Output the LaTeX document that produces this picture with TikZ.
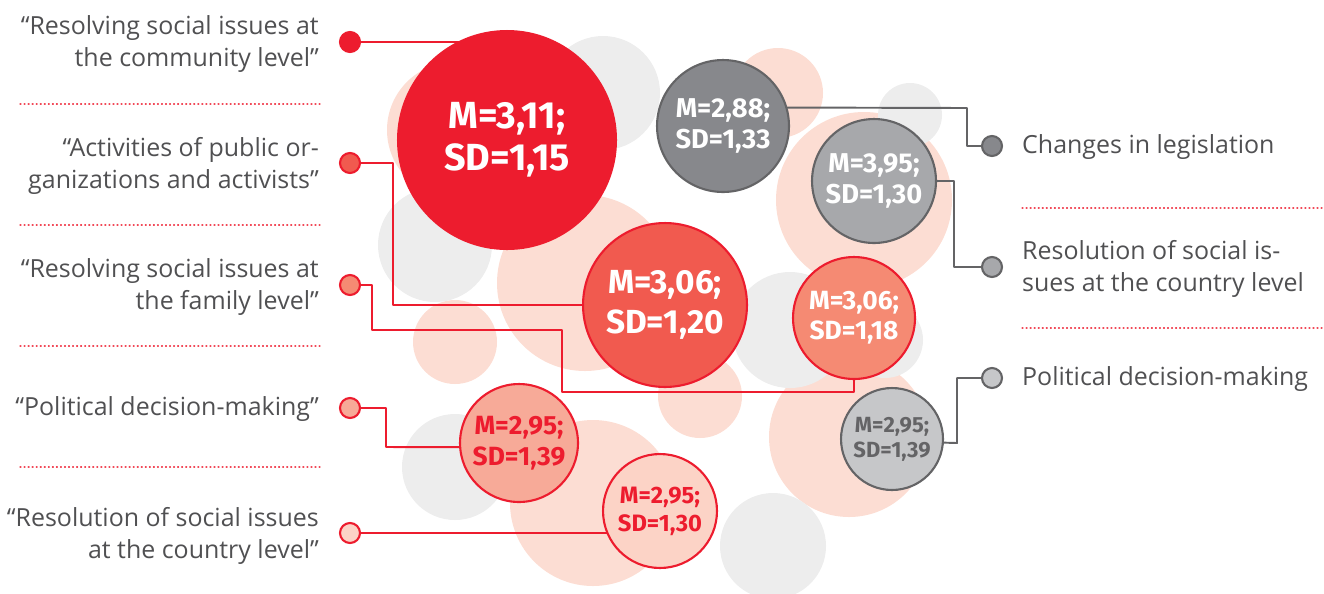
\documentclass[tikz,border=0pt]{standalone}
\usepackage{fontspec}
\setmainfont{Open Sans}
\newfontfamily\statfont{Fira Sans}
\definecolor{redA}{HTML}{ED1C2E}
\definecolor{redB}{HTML}{F15A4F}
\definecolor{redC}{HTML}{F58A73}
\definecolor{redD}{HTML}{F7AA98}
\definecolor{redE}{HTML}{FCD3C6}
\definecolor{pinkbg}{HTML}{FCDDD3}
\definecolor{graybg}{HTML}{EDEDED}
\definecolor{grayA}{HTML}{87888C}
\definecolor{grayB}{HTML}{A7A8AB}
\definecolor{grayC}{HTML}{C6C7C9}
\definecolor{grayline}{HTML}{646466}
\definecolor{textgray}{HTML}{505052}
\begin{document}
\begin{tikzpicture}[x=0.02cm, y=-0.02cm, line cap=round, line join=round]
	\tikzset{bubble/.style n args={3}{circle, fill=#2, draw=#3, line width=1.2pt, minimum size=#1*0.04cm, inner sep=0pt, align=center},
		dotmark/.style n args={2}{circle, fill=#1, draw=#2, line width=1.2pt, minimum size=0.4cm, inner sep=0pt},
		link/.style={draw=#1, line width=1.1pt},
		lefttext/.style={anchor=east, align=right, text=textgray, font=\fontsize{14.2}{18.2}\selectfont},
		righttext/.style={anchor=west, align=left, text=textgray, font=\fontsize{14.2}{18.2}\selectfont},
		divider/.style={draw=redA!80, line width=0.6pt, dash pattern=on 0.6pt off 1.7pt}}
	\useasboundingbox (0,0) rectangle (1324,593);
	\foreach \cx/\cy/\r/\c in {455/130/68/pinkbg, 778/93/45/pinkbg, 864/200/88/pinkbg, 585/283/88/pinkbg, 455/342/42/pinkbg, 849/437/80/pinkbg, 593/503/83/pinkbg, 603/93/57/graybg, 910/115/32/graybg, 435/245/57/graybg, 790/330/58/graybg, 885/340/38/graybg, 455/467/53/graybg, 773/546/53/graybg, 700/396/42/pinkbg}
		\fill[\c] (\cx,\cy) circle (\r);
	\foreach \y in {104,225,346,467} \draw[divider] (20,\y) -- (322,\y);
	\foreach \y in {208,328} \draw[divider] (1022,\y) -- (1324,\y);
	% bubbles
	\node[bubble={109}{redA}{redA}, text=white, font=\statfont\bfseries\fontsize{21.5}{24}\selectfont] (b311) at (507,140) {M=3,11;\\SD=1,15};
	\node[bubble={66}{grayA}{grayline}, text=white, font=\statfont\bfseries\fontsize{15.5}{17.5}\selectfont] (b288) at (723,126) {M=2,88;\\SD=1,33};
	\node[bubble={62}{grayB}{grayline}, text=white, font=\statfont\bfseries\fontsize{15.5}{17.5}\selectfont] (b395) at (874,181) {M=3,95;\\SD=1,30};
	\node[bubble={82}{redB}{redA}, text=white, font=\statfont\bfseries\fontsize{19}{22.5}\selectfont] (b306a) at (665,305) {M=3,06;\\SD=1,20};
	\node[bubble={61}{redC}{redA}, text=white, font=\statfont\bfseries\fontsize{15}{17}\selectfont] (b306b) at (854,318) {M=3,06;\\SD=1,18};
	\node[bubble={51}{grayC}{grayline}, text=grayline, font=\statfont\bfseries\fontsize{12.5}{14.2}\selectfont] (b295c) at (892,439) {M=2,95;\\SD=1,39};
	\node[bubble={59}{redD}{redA}, text=redA, font=\statfont\bfseries\fontsize{15}{18}\selectfont] (b295a) at (519,443) {M=2,95;\\SD=1,39};
	\node[bubble={57}{redE}{redA}, text=redA, font=\statfont\bfseries\fontsize{13.5}{16}\selectfont] (b295b) at (660,511) {M=2,95;\\SD=1,30};
	% markers
	\node[dotmark={redA}{redA}] (d1) at (350,42) {};
	\node[dotmark={redB}{redA}] (d2) at (350,163) {};
	\node[dotmark={redC}{redA}] (d3) at (350,285) {};
	\node[dotmark={redD}{redA}] (d4) at (350,408) {};
	\node[dotmark={redE}{redA}] (d5) at (350,533) {};
	\node[dotmark={grayA}{grayline}] (r1) at (992,146) {};
	\node[dotmark={grayB}{grayline}] (r2) at (992,267) {};
	\node[dotmark={grayC}{grayline}] (r3) at (992,378) {};
	% texts
	\node[lefttext] (t1) at (325,44) {“Resolving social issues at\\the community level”};
	\node[lefttext] (t2) at (325,166) {“Activities of public or-\\ganizations and activists”};
	\node[lefttext] (t3) at (325,287) {“Resolving social issues at\\the family level”};
	\node[lefttext] (t4) at (325,409) {“Political decision-making”};
	\node[lefttext] (t5) at (325,536) {“Resolution of social issues\\at the country level”};
	\node[righttext] (u1) at (1016,147) {Changes in legislation};
	\node[righttext] (u2) at (1016,269) {Resolution of social is-\\sues at the country level};
	\node[righttext] (u3) at (1016,379) {Political decision-making};
	% connectors
	\coordinate (k2) at (393,305);
	\coordinate (k3a) at (372,330);
	\coordinate (k3b) at (562,392);
	\coordinate (k4) at (386,447);
	\coordinate (k5) at (967,108);
	\coordinate (k6) at (954,181);
	\coordinate (k7) at (957,443);
	\draw[link=redA] (d1.east) -- (d1.east -| b311.116);
	\draw[link=redA] (d2.east) -| (k2) -- (b306a.west);
	\draw[link=redA] (d3.east) -| (k3a) -| (k3b) -| (b306b.south);
	\draw[link=redA] (d4.east) -| (k4) -- (b295a.184);
	\draw[link=redA] (d5.east) -- (d5.east -| b295b.204);
	\draw[link=grayline] (b288.16) -- (k5) |- (r1.west);
	\draw[link=grayline] (b395.east) -- (k6) |- (r2.west);
	\draw[link=grayline] (b295c.-4) -- (k7) |- (r3.west);
\end{tikzpicture}
\end{document}
